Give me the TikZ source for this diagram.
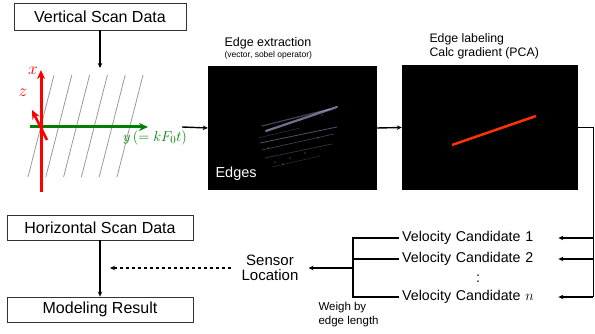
\documentclass[tikz,border=0pt]{standalone}
\usepackage{fontspec}
\setmainfont{Liberation Sans}
\usepackage{tikz}
\usetikzlibrary{arrows.meta, positioning, calc}
\definecolor{pcared}{RGB}{255,51,0}
\definecolor{axgreen}{RGB}{0,128,0}
\definecolor{streak}{RGB}{205,205,255}
\tikzset{
  databox/.style={draw=black!80, line width=0.8pt, minimum width=186pt, minimum height=25pt, inner sep=0pt, font=\fontsize{16}{18}\selectfont},
  imgbox/.style={fill=black, draw=none, inner sep=0pt},
  cand/.style={anchor=west, text width=136pt, align=left, inner sep=3pt, font=\fontsize{14.2}{16}\selectfont},
  link/.style={-{Stealth[length=5pt, width=4.5pt]}, line width=1.4pt},
  axisarrow/.style={-{Stealth[length=9pt, width=8pt]}, line width=3pt}
}

\begin{document}
\begin{tikzpicture}[x=1pt, y=1pt]
        \useasboundingbox (0,0) rectangle (595,334);

        % Vertical scan and its frame
        \node[databox, minimum width=172pt, minimum height=27pt] (vsd) at (100,317.5) {Vertical Scan Data};
        \coordinate (axtop) at (100,266);
        \draw[link] (vsd.south) -- (axtop);

        \foreach \i in {0,...,5}
          \draw[gray!80, line width=0.8pt] ({28+17.8*\i},157) -- ({54+17.8*\i},259);

        \draw[axisarrow, axgreen] (30,207) -- (148,207);
        \draw[axisarrow, red] (41,142) -- (41,264);
        \draw[axisarrow, red, line width=2.5pt] (47,194) -- (32,224);
        \node[red, font=\fontsize{17}{18}\selectfont] (xlab) at (33,263) {$x$};
        \node[red, font=\fontsize{17}{18}\selectfont] (zlab) at (23,241) {$z$};
        \node[axgreen, font=\fontsize{15}{16}\selectfont] (ylab) at (155,196) {$y\,(=kF_0t)$};
        \coordinate (axout) at (182,207);

        % Edge extraction
        \node[imgbox, minimum width=169pt, minimum height=124pt] (edgeimg) at (292.5,206) {};
        \begin{scope}[streak, line cap=round]
          \draw[opacity=0.55, line width=2.2pt] (266,203) -- (337,227);
          \draw[opacity=0.35, line width=1.2pt] (262,208) -- (330,225);
          \draw[opacity=0.4, line width=0.8pt] (260,191) -- (337,207);
          \draw[opacity=0.3, line width=0.7pt] (262,184) -- (334,200);
          \draw[opacity=0.25, line width=0.7pt] (265,176) -- (332,190);
          \draw[opacity=0.2, line width=0.6pt] (272,167) -- (320,178);
          \draw[opacity=0.25, line width=0.5pt] (258,196) -- (300,206);
          \foreach \p in {(275,172),(283,170),(290,176),(305,181),(268,186),(318,196),(300,214),(322,219)}
            \fill[opacity=0.3] \p circle (0.8pt);
        \end{scope}
        \node[anchor=west, white, font=\fontsize{14.5}{16}\selectfont] (edgetxt) at (212,160) {Edges};
        \node[anchor=west, font=\fontsize{12.5}{14}\selectfont] (edgettl) at (221,291) {Edge extraction};
        \node[anchor=west, font=\fontsize{8.5}{10}\selectfont] (edgesub) at (221,279) {(vector, sobel operator)};

        % Edge labeling
        \node[imgbox, minimum width=176pt, minimum height=125pt] (lblimg) at (490,206.5) {};
        \draw[pcared, line width=2.5pt] (452,189) -- (536,218);
        \node[anchor=west, align=left, font=\fontsize{12.3}{14}\selectfont] (lblttl) at (426,288) {Edge labeling\\Calc gradient (PCA)};

        \draw[link] (axout) -- (edgeimg.west);
        \draw[link] (edgeimg.east) -- (lblimg.west);

        % Velocity candidates
        \node[cand] (vc1) at (399,96) {Velocity Candidate 1};
        \node[cand] (vc2) at (399,75) {Velocity Candidate 2};
        \node[font=\fontsize{14.2}{16}\selectfont] (vdots) at (478,55) {:};
        \node[cand] (vcn) at (399,37) {Velocity Candidate $n$};

        \draw[line width=1.4pt] (lblimg.east) -- ++(15,0) coordinate (bus) -- (bus |- vcn);
        \foreach \c in {vc1,vc2,vcn}
          \draw[link] (bus |- \c) -- ([xshift=17pt]\c.east);

        \coordinate (brk) at (353,66);
        \draw[line width=1.4pt] (vc1.west) -| (brk |- vcn) -- (vcn.west);
        \draw[line width=1.4pt] (vc2.west) -- (brk |- vc2);
        \node[anchor=west, align=left, font=\fontsize{11.5}{14}\selectfont] (weigh) at (315,19) {Weigh by\\edge length};

        % Sensor location and modeling
        \node[align=center, inner xsep=10pt, font=\fontsize{15}{15}\selectfont] (sensor) at (270,66) {Sensor\\Location};
        \draw[link] (brk) -- (sensor.east);

        \node[databox] (hsd) at (100,106.5) {Horizontal Scan Data};
        \node[databox] (mr) at (100,24.5) {Modeling Result};
        \draw[link] (hsd) -- (mr);
        \coordinate (mrin) at (110,66);
        \draw[link, dashed] (sensor.west) -- (mrin);
    \end{tikzpicture}
\end{document}
